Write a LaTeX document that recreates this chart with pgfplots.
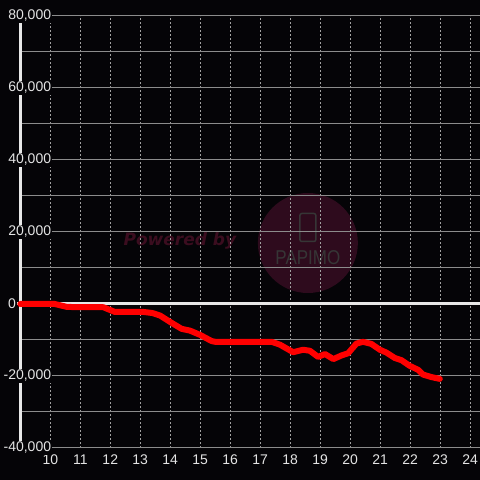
\documentclass[border=0pt]{standalone}
\usepackage{pgfplots}
\pgfplotsset{compat=1.18}
\usepackage{fontspec}
\setmainfont{Liberation Sans}
\newfontfamily\wmfont{DejaVu Sans}
\definecolor{bg}{HTML}{050407}
\definecolor{tx}{HTML}{E4E4E4}
\definecolor{gridc}{HTML}{8C8C8C}
\definecolor{dotc}{HTML}{A0A0A0}
\definecolor{axc}{HTML}{E8E8E8}
\definecolor{wmcirc}{HTML}{2E0B1D}
\definecolor{wmtext}{HTML}{3B0D1F}
\definecolor{wmgray}{HTML}{363636}
\begin{document}
\begin{tikzpicture}
\begin{axis}[
  set layers,
  at={(20.3pt,32pt)}, anchor=south west,
  scale only axis, width=459.7pt, height=432pt,
  xmin=9, xmax=24.33, ymin=-40000, ymax=80000,
  clip=false,
  axis y line*=left, axis x line*=bottom,
  hide obscured y ticks=false, hide obscured x ticks=false,
  x axis line style={draw=none},
  y axis line style={draw=axc, line width=3pt, -},
  major tick length=0pt, minor tick length=0pt,
  xtick={10,...,24},
  ytick={-40000,-20000,20000,40000,60000,80000},
  minor ytick={-30000,-10000,10000,30000,50000,70000},
  extra y ticks={0}, extra y tick labels={0},
  extra y tick style={ymajorgrids=false, yticklabel style={xshift=-35.3pt}},
  xmajorgrids, ymajorgrids, yminorgrids,
  x grid style={dotc, line width=0.8pt, dash pattern=on 2pt off 2pt},
  y grid style={gridc, line width=1pt},
  minor y grid style={gridc, line width=1pt},
  scaled y ticks=false,
  /pgf/number format/assume math mode=true,
  /pgf/number format/.cd, fixed, 1000 sep={,}, /pgfplots/.cd,
  tick label style={font=\fontsize{14}{16}\selectfont, text=tx},
  yticklabel style={anchor=east, inner sep=1pt, xshift=32pt, fill=bg},
  xticklabel style={yshift=-3pt},
]
\begin{pgfonlayer}{axis background}
  \fill[bg] (axis cs:8.3233,-48889) rectangle (axis cs:24.3233,84444);
  \fill[wmcirc] (axis cs:18.59,16944) circle[radius=50pt];
  \node[text=wmtext, font=\wmfont\bfseries\itshape\fontsize{17}{19}\selectfont] at (axis cs:14.323,17500) {Powered by};
  \node[draw=wmgray, line width=1.5pt, rounded corners=2pt, minimum width=16pt, minimum height=28pt, inner sep=0pt] at (axis cs:18.59,21250) {};
  \node[text=wmgray, font=\fontsize{20}{22}\selectfont, xscale=0.85] at (axis cs:18.59,12778) {PAPIMO};
\end{pgfonlayer}
\begin{pgfonlayer}{axis grid}
  \draw[axc, line width=3pt] (axis cs:8.9,0) -- (axis cs:24.33,0);
\end{pgfonlayer}
\addplot[color=red, line width=6pt, line join=round, line cap=round] coordinates {
(9,0) (10.15,0) (10.55,-800) (11.0,-900) (11.77,-900) (12.15,-2200) (13.1,-2200)
(13.4,-2500) (13.66,-3200) (14.0,-5000) (14.38,-6900) (14.66,-7400) (15.0,-8600)
(15.38,-10300) (15.5,-10500) (17.38,-10500) (17.66,-11300) (18.1,-13400)
(18.43,-12700) (18.66,-13000) (18.93,-14700) (19.16,-13900) (19.44,-15300)
(19.71,-14300) (19.93,-13700) (20.21,-11000) (20.43,-10500) (20.71,-11100)
(20.99,-12700) (21.21,-13500) (21.49,-15000) (21.71,-15600) (21.99,-17200)
(22.27,-18300) (22.43,-19600) (22.71,-20300) (22.99,-20800)
};
\end{axis}
\pgfresetboundingbox
\path (0pt,0pt) rectangle (480pt,480pt);
\end{tikzpicture}
\end{document}
